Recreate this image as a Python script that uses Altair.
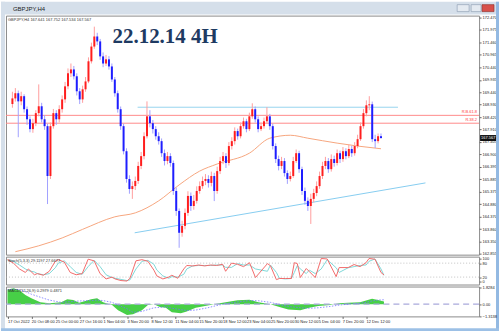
import json
import altair as alt
import pandas as pd

# ---------------- data ----------------
opens = [168.95, 169.18, 169.39, 169.06, 169.27, 168.74, 168.33, 167.93, 168.17, 168.58,
         168.86, 168.33, 168.05, 166.02, 168.05, 168.58, 168.33, 168.74, 169.14, 169.67,
         170.20, 170.36, 170.08, 169.47, 169.14, 169.55, 169.87, 170.69, 171.29, 171.70,
         171.50, 170.89, 170.60, 170.77, 170.48, 169.95, 169.39, 168.74, 168.05, 167.03,
         165.90, 165.49, 165.61, 165.82, 166.43, 166.83, 167.64, 168.45, 168.17, 167.93,
         167.64, 167.44, 166.95, 166.63, 166.83, 166.55, 165.41, 164.60, 163.71, 163.99,
         164.52, 165.21, 164.80, 165.01, 165.41, 165.61, 165.82, 165.90, 165.74, 166.02,
         165.41, 166.22, 166.63, 166.83, 166.55, 167.24, 167.44, 167.85, 167.64, 168.05,
         168.25, 167.93, 168.45, 168.74, 168.33, 167.93, 168.05, 168.25, 168.45, 168.05,
         167.24, 166.71, 166.43, 166.63, 166.14, 165.90, 166.02, 166.63, 166.95, 166.30,
         165.41, 165.01, 164.80, 165.09, 165.33, 165.61, 166.02, 166.43, 166.63, 166.30,
         166.71, 166.55, 166.95, 166.71, 167.03, 166.83, 167.12, 166.95, 167.24, 167.52,
         168.05, 168.58, 168.90, 168.94, 167.52, 167.44, 167.641]
closes = [169.18, 169.39, 169.06, 169.27, 168.74, 168.33, 167.93, 168.17, 168.58, 168.86,
          168.33, 168.05, 166.02, 168.05, 168.58, 168.33, 168.74, 169.14, 169.67, 170.20,
          170.36, 170.08, 169.47, 169.14, 169.55, 169.87, 170.69, 171.29, 171.70, 171.50,
          170.89, 170.60, 170.77, 170.48, 169.95, 169.39, 168.74, 168.05, 167.03, 165.90,
          165.49, 165.61, 165.82, 166.43, 166.83, 167.64, 168.45, 168.17, 167.93, 167.64,
          167.44, 166.95, 166.63, 166.83, 166.55, 165.41, 164.60, 163.71, 163.99, 164.52,
          165.21, 164.80, 165.01, 165.41, 165.61, 165.82, 165.90, 165.74, 166.02, 165.41,
          166.22, 166.63, 166.83, 166.55, 167.24, 167.44, 167.85, 167.64, 168.05, 168.25,
          167.93, 168.45, 168.74, 168.33, 167.93, 168.05, 168.25, 168.45, 168.05, 167.24,
          166.71, 166.43, 166.63, 166.14, 165.90, 166.02, 166.63, 166.95, 166.30, 165.41,
          165.01, 164.80, 165.09, 165.33, 165.61, 166.02, 166.43, 166.63, 166.30, 166.71,
          166.55, 166.95, 166.71, 167.03, 166.83, 167.12, 166.95, 167.24, 167.52, 168.05,
          168.58, 168.90, 168.94, 167.52, 167.44, 167.641, 167.567]
highs = [169.45, 169.60, 169.50, 169.45, 169.35, 168.85, 168.45, 168.35, 168.70, 169.75,
         169.00, 168.50, 168.15, 168.20, 168.75, 168.70, 168.90, 169.30, 169.85, 170.40,
         170.60, 170.50, 170.20, 169.60, 169.70, 170.05, 170.85, 171.45, 172.10, 171.85,
         171.60, 171.05, 170.95, 170.90, 170.60, 170.05, 169.50, 168.85, 168.15, 167.15,
         166.05, 165.80, 166.00, 166.60, 167.00, 167.80, 169.06, 168.70, 168.30, 168.05,
         167.80, 167.55, 167.10, 167.00, 166.95, 166.65, 165.55, 164.70, 164.20, 164.70,
         165.40, 165.35, 165.25, 165.60, 165.80, 166.00, 166.10, 166.05, 166.20, 166.15,
         166.40, 166.80, 167.00, 166.95, 167.40, 167.60, 168.00, 167.95, 168.20, 168.40,
         168.35, 168.60, 168.98, 168.85, 168.45, 168.20, 168.40, 168.82, 168.55, 168.15,
         167.35, 166.85, 166.80, 166.75, 166.25, 166.20, 166.80, 167.10, 167.05, 166.40,
         165.55, 165.15, 165.30, 165.50, 165.80, 166.20, 166.60, 166.80, 166.75, 166.90,
         166.85, 167.10, 167.05, 167.20, 167.15, 167.30, 167.25, 167.40, 167.70, 168.20,
         168.75, 169.10, 169.27, 169.05, 167.70, 167.75, 167.752]
lows = [168.80, 169.05, 167.60, 168.90, 168.60, 168.10, 167.80, 167.78, 168.05, 168.45,
        168.20, 167.90, 164.88, 165.90, 167.95, 168.10, 168.20, 168.60, 169.00, 169.55,
        170.05, 169.95, 169.30, 168.95, 169.00, 169.45, 169.80, 170.60, 171.20, 171.35,
        170.75, 170.45, 170.50, 170.35, 169.85, 169.25, 168.60, 167.90, 166.90, 165.75,
        165.30, 165.09, 165.45, 165.70, 166.30, 166.70, 167.55, 168.00, 167.75, 167.50,
        167.30, 166.80, 166.45, 166.50, 166.40, 165.25, 164.40, 163.10, 163.55, 163.85,
        164.40, 164.60, 164.65, 164.90, 165.30, 165.50, 165.65, 165.55, 165.60, 165.00,
        165.30, 166.10, 166.50, 166.35, 166.45, 167.10, 167.30, 167.50, 167.55, 167.95,
        167.80, 167.85, 168.35, 168.20, 167.80, 167.85, 167.95, 168.15, 167.90, 167.10,
        166.55, 166.25, 166.30, 166.00, 165.70, 165.80, 165.95, 166.55, 166.15, 165.25,
        164.85, 164.60, 164.07, 164.95, 165.20, 165.50, 165.90, 166.30, 166.15, 166.20,
        166.40, 166.45, 166.55, 166.60, 166.70, 166.75, 166.80, 166.85, 167.15, 167.45,
        167.95, 168.45, 168.70, 167.40, 167.16, 167.35, 167.534]

ma_i = [1, 9, 17, 24, 35, 42, 50, 57, 64, 70, 81, 88, 95, 101, 111, 118, 126]
ma_v = [162.94, 163.18, 163.50, 163.85, 164.36, 164.52, 165.01, 165.66, 166.22, 166.51,
        166.95, 167.56, 167.68, 167.56, 167.36, 167.24, 167.13]

red_levels = [168.49, 168.17]
red_names = ["R.B.61.8", "R.38.2"]
cyan_h_x = [42.8, 131.8]
cyan_h_p = [168.82, 168.82]
trend_x = [41.8, 141.2]
trend_p = [163.71, 165.74]

price_ticks = [172.470, 171.975, 171.460, 170.965, 170.440, 169.935, 169.440, 168.930,
               168.420, 167.910, 167.405, 166.900, 166.395, 165.885, 165.375, 164.880,
               164.370, 163.860, 163.350, 162.855]
last_price = 167.567

stoch_i = [0, 2, 4, 6, 7, 9, 10, 12, 14, 16, 17, 19, 21, 23, 25, 27, 29, 31, 33, 35,
           36, 38, 40, 41, 43, 45, 47, 49, 50, 52, 54, 55, 57, 59, 60, 62, 64, 66, 68, 70,
           72, 73, 75, 77, 79, 81, 83, 87, 88, 90, 91, 93, 95, 96, 97, 98, 100, 101, 103, 105,
           107, 110, 111, 114, 116, 118, 120, 121, 123, 125, 126]
stoch_k = [95, 80, 55, 40, 55, 30, 35, 28, 45, 88, 95, 85, 40, 30, 35, 97, 90, 35, 12, 20,
           12, 5, 3, 15, 90, 95, 88, 50, 25, 12, 20, 28, 15, 55, 70, 68, 72, 68, 72, 70,
           75, 45, 80, 75, 65, 82, 18, 78, 69, 9, 14, 14, 14, 82, 78, 18, 57, 44, 18, 100,
           98, 22, 61, 61, 74, 65, 82, 100, 97, 40, 29.1]
stoch_d = [92, 88, 72, 55, 48, 42, 35, 30, 35, 60, 80, 90, 65, 40, 32, 65, 92, 65, 30, 18,
           15, 10, 5, 8, 55, 88, 92, 75, 50, 25, 15, 22, 20, 32, 55, 68, 70, 70, 70, 72,
           72, 62, 62, 78, 72, 72, 55, 45, 72, 40, 15, 12, 14, 40, 70, 55, 35, 50, 35, 55,
           95, 60, 40, 60, 65, 70, 72, 88, 98, 55, 27.7]
stoch_levels = [80, 20]
stoch_ticks = [100, 80, 20, 0]

macd_i = [0, 2, 4, 6, 8, 11, 14, 18, 20, 22, 24, 28, 30, 32, 35, 37, 40, 42, 45, 47,
          49, 51, 53, 55, 58, 60, 63, 67, 70, 73, 77, 81, 84, 88, 91, 94, 98, 101, 104, 108,
          111, 114, 118, 120, 122, 124, 126]
macd_v = [1.6, 1.75, 1.55, 1.0, 0.66, 0.2, 0.1, 0.2, 0.55, 0.45, 0.15, 0.55, 0.66, 0.2, -0.1,
          -0.66, -1.2, -1.1, -0.66, -0.1, 0.0, -0.3, -0.4, -0.9, -1.0, -0.8, -0.4, -0.15, 0.05,
          0.2, 0.44, 0.5, 0.2, 0.0, -0.3, -0.6, -0.66, -0.4, -0.2, -0.1, 0.1, 0.15, 0.2, 0.4,
          0.6, 0.45, 0.2979]
macd_s = [1.6, 1.65, 1.6, 1.4, 1.1, 0.77, 0.45, 0.2, 0.25, 0.3, 0.35, 0.4, 0.45, 0.4, 0.2,
          -0.1, -0.5, -0.9, -0.8, -0.6, -0.4, -0.35, -0.3, -0.45, -0.6, -0.7, -0.65, -0.4,
          -0.15, 0.05, 0.25, 0.4, 0.38, 0.2, -0.05, -0.25, -0.4, -0.45, -0.4, -0.25, -0.1,
          0.0, 0.1, 0.2, 0.35, 0.45, 0.4871]
macd_ticks = [1.8284, 0, -1.3138]

x_tick_idx = [0, 8, 16, 24, 32, 40, 48, 56, 64, 72, 80, 88, 96, 104, 112, 120]
x_labels = ["17 Oct 2022", "20 Oct 08:00", "25 Oct 00:00", "27 Oct 16:00", "1 Nov 04:00",
            "3 Nov 20:00", "8 Nov 12:00", "11 Nov 04:00", "15 Nov 20:00", "18 Nov 12:00",
            "23 Nov 04:00", "25 Nov 20:00", "30 Nov 12:00", "5 Dec 04:00", "7 Dec 20:00",
            "12 Dec 12:00"]

# ---------------- frames ----------------
df = pd.DataFrame({"i": list(range(len(closes))), "open": opens, "high": highs,
                   "low": lows, "close": closes})
ma_df = pd.DataFrame({"i": ma_i, "v": ma_v})
red_df = pd.DataFrame({"p": red_levels, "t": red_names})
cyan_df = pd.DataFrame({"x": [cyan_h_x[0]], "x2": [cyan_h_x[1]], "p": [cyan_h_p[0]]})
trend_df = pd.DataFrame({"x": [trend_x[0]], "x2": [trend_x[1]], "p": [trend_p[0]], "p2": [trend_p[1]]})
cur_df = pd.DataFrame({"p": [last_price], "t": [f"{last_price:.3f}"]})
sto_df = pd.DataFrame({"i": stoch_i, "k": stoch_k, "d": stoch_d})
lev_df = pd.DataFrame({"v": stoch_levels})
macd_df = pd.DataFrame({"i": macd_i, "m": macd_v, "s": macd_s})
one = pd.DataFrame({"k": [0]})

W = 475
H_MAIN, H_STO, H_MACD = 240, 28, 30
FONT = "Liberation Sans"

xscale = alt.Scale(domain=[-0.5, 157.83], nice=False, zero=False)
pscale = alt.Scale(domain=[162.82, 172.55], nice=False, zero=False)
sscale = alt.Scale(domain=[-12, 108], nice=False, zero=False)
mscale = alt.Scale(domain=[-1.35, 1.95], nice=False, zero=False)

AX = dict(orient="right", grid=False, domain=False, tickSize=2, tickColor="#666",
          labelFontSize=4, labelPadding=1, labelColor="#222", labelFont=FONT,
          title=None, labelOverlap=False)
pax = alt.Axis(values=price_ticks, format=".3f", **AX)
sax = alt.Axis(values=stoch_ticks, format="d", **AX)
max_ = alt.Axis(values=macd_ticks,
                labelExpr="datum.value == 0 ? '0.00' : format(datum.value, '.4f')", **AX)

X = alt.X("i:Q", scale=xscale, axis=None)


def rect(x, x2, y, y2, color, stroke=None):
    kw = {"color": color}
    if stroke:
        kw.update(stroke=stroke, strokeWidth=0.6)
    return alt.Chart(one).mark_rect(**kw).encode(
        x=alt.value(x), x2=alt.value(x2), y=alt.value(y), y2=alt.value(y2))


def label(text, x, y, size, color, **kw):
    return alt.Chart(one).mark_text(text=text, fontSize=size, color=color, align="left",
                                    **kw).encode(x=alt.value(x), y=alt.value(y))


# ---------------- main panel ----------------
red_rules = alt.Chart(red_df).mark_rule(color="#ff8a8a", strokeWidth=1).encode(
    y=alt.Y("p:Q", scale=pscale, axis=pax))
red_text = alt.Chart(red_df).mark_text(align="right", baseline="bottom", dy=-1,
                                       fontSize=4, color="#ff3b3b", font=FONT).encode(
    x=alt.value(473), y=alt.Y("p:Q", scale=pscale, axis=pax), text="t:N")
cyan_h = alt.Chart(cyan_df).mark_rule(color="#97d4ee", strokeWidth=1).encode(
    x=alt.X("x:Q", scale=xscale, axis=None), x2="x2:Q",
    y=alt.Y("p:Q", scale=pscale, axis=pax))
trend = alt.Chart(trend_df).mark_rule(color="#86cdf0", strokeWidth=1).encode(
    x=alt.X("x:Q", scale=xscale, axis=None), x2="x2:Q",
    y=alt.Y("p:Q", scale=pscale, axis=pax), y2="p2:Q")
ma = alt.Chart(ma_df).mark_line(color="#f6a57e", strokeWidth=1, interpolate="monotone").encode(
    x=X, y=alt.Y("v:Q", scale=pscale, axis=pax))
wick = alt.Chart(df).mark_rule(strokeWidth=1).encode(
    x=X, y=alt.Y("low:Q", scale=pscale, axis=pax), y2="high:Q",
    color=alt.condition("datum.close >= datum.open", alt.value("#ff9d9d"), alt.value("#a0a0ff")))
body = alt.Chart(df).mark_bar(size=2).encode(
    x=X, y=alt.Y("open:Q", scale=pscale, axis=pax), y2="close:Q",
    color=alt.condition("datum.close >= datum.open", alt.value("#ff1e1e"), alt.value("#1e1eff")))
cur_box = alt.Chart(cur_df).mark_rule(color="#111111", strokeWidth=6).encode(
    x=alt.value(476), x2=alt.value(492), y=alt.Y("p:Q", scale=pscale, axis=pax))
cur_txt = alt.Chart(cur_df).mark_text(align="left", fontSize=4, color="white", font=FONT).encode(
    x=alt.value(477), y=alt.Y("p:Q", scale=pscale, axis=pax), text="t:N")

title = label("22.12.14 4H", 107, 28, 21, "#1e3a62", font="Liberation Serif",
              fontWeight="bold", baseline="alphabetic")
info = label("GBPJPY,H4  167.641 167.752 167.534 167.567", 2, 2, 4, "#333333",
             font=FONT, baseline="top")

# window frame (decoration)
frame = [
    rect(-5, 495, -14, -1, "#d5dfea"),
    rect(-5, -1, -14, 317, "#d5dfea"),
    rect(492, 495, -14, 317, "#93b9e2"),
    rect(-5, 495, 314, 317, "#9cc0e6"),
    rect(453, 465, -11, -4, "#e4eaf1", "#8597ad"),
    rect(467, 477, -11, -4, "#e4eaf1", "#8597ad"),
    rect(478, 490, -11, -4, "#d8504a", "#8a2a25"),
    label("GBPJPY,H4", 7, -7, 6, "#222222", font=FONT, baseline="middle"),
]

main = alt.layer(red_rules, cyan_h, trend, ma, wick, body, red_text, cur_box, cur_txt,
                 title, info, *frame).properties(width=W, height=H_MAIN)

# ---------------- stochastic panel ----------------
lev = alt.Chart(lev_df).mark_rule(color="#a8a8a8", strokeWidth=0.7, strokeDash=[1, 2]).encode(
    y=alt.Y("v:Q", scale=sscale, axis=sax))
sd = alt.Chart(sto_df).mark_line(color="#7fd8d8", strokeWidth=1).encode(
    x=X, y=alt.Y("d:Q", scale=sscale, axis=sax))
sk = alt.Chart(sto_df).mark_line(color="#f26b6b", strokeWidth=1).encode(
    x=X, y=alt.Y("k:Q", scale=sscale, axis=sax))
sinfo = label("Stoch(5,3,3) 29.1197 27.6677", 2, 2, 4, "#333333", font=FONT, baseline="top")
stoch = alt.layer(lev, sd, sk, sinfo).properties(width=W, height=H_STO)

# ---------------- MACD panel ----------------
XB = alt.X("i:Q", scale=xscale,
           axis=alt.Axis(values=x_tick_idx, labelExpr=f"{json.dumps(x_labels)}[round(datum.value/8)]",
                         labelAlign="left", labelFontSize=4, labelFont=FONT, labelColor="#222",
                         labelPadding=1, tickSize=2, tickColor="#666", domain=False, grid=False,
                         labelFlush=False, labelOverlap=False, title=None))
hist = alt.Chart(macd_df).mark_area(color="#3dcc3d", opacity=0.95).encode(
    x=XB, y=alt.Y("m:Q", scale=mscale, axis=max_), y2=alt.Y2(datum=0))
zero = alt.Chart(one).mark_rule(color="#a9a9dc", strokeWidth=1.4, strokeDash=[6, 4]).encode(
    y=alt.Y(datum=0, scale=mscale, axis=max_))
sig = alt.Chart(macd_df).mark_line(color="#7373ff", strokeWidth=0.8, strokeDash=[1.5, 1.5]).encode(
    x=XB, y=alt.Y("s:Q", scale=mscale, axis=max_))
minfo = label("MACD(12,26,9) 0.2979 0.4871", 2, 2, 4, "#333333", font=FONT, baseline="top")
macd = alt.layer(hist, zero, sig, minfo).properties(width=W, height=H_MACD)

chart = alt.vconcat(main, stoch, macd, spacing=2, bounds="flush").properties(
    padding=0, background="white", autosize=alt.AutoSizeParams(type="pad")
).configure_view(stroke="#8a8a8a", strokeWidth=1).configure_text(font=FONT)

chart.save("out.html", embed_options={"renderer": "svg", "actions": False})
